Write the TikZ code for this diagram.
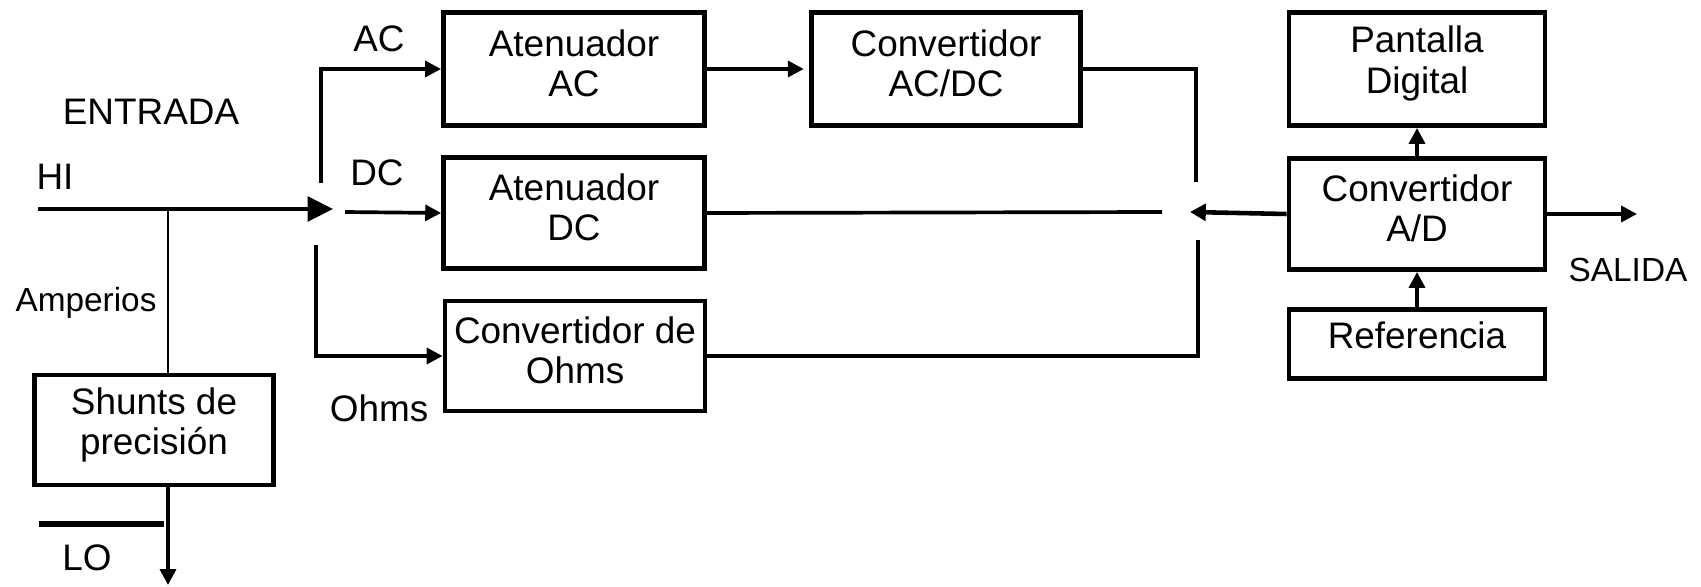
\documentclass[tikz,border=0pt]{standalone}
\usepackage{fontspec}
\setmainfont{Liberation Sans}
\usetikzlibrary{arrows.meta}
\begin{document}
\begin{tikzpicture}[x=0.02cm,y=-0.02cm,
  blk/.style={draw,line width=2.8pt,inner sep=0pt},
  btxt/.style={inner sep=0pt,align=center,font=\fontsize{21}{23}\selectfont},
  wire/.style={line width=2.1pt},
  arr/.style={wire,-{Triangle[length=9pt,width=9pt]}},
  lbl/.style={inner sep=0pt,font=\fontsize{21}{24}\selectfont},
  slbl/.style={inner sep=0pt,font=\fontsize{19}{22}\selectfont}]
\useasboundingbox (0,0) rectangle (1701,587);

% function blocks
\node[blk,minimum width=261*0.02cm,minimum height=113*0.02cm] (attAC) at (574,69) {};
\node[blk,minimum width=269*0.02cm,minimum height=113*0.02cm] (convACDC) at (946,69) {};
\node[blk,minimum width=261*0.02cm,minimum height=111*0.02cm] (attDC) at (574,213) {};
\node[blk,minimum width=260*0.02cm,minimum height=110*0.02cm] (convOhm) at (575,356) {};
\node[blk,minimum width=256*0.02cm,minimum height=113*0.02cm] (pant) at (1417,69) {};
\node[blk,minimum width=256*0.02cm,minimum height=111*0.02cm] (ad) at (1417,214) {};
\node[blk,minimum width=256*0.02cm,minimum height=69*0.02cm] (ref) at (1417,344) {};
\node[blk,minimum width=239*0.02cm,minimum height=110*0.02cm] (shunt) at (154,430) {};

% block captions, set slightly above centre
\node[btxt] (attACt) at ([yshift=3.2pt]attAC.center) {Atenuador\\AC};
\node[btxt] (convACDCt) at ([yshift=3.2pt]convACDC.center) {Convertidor\\AC/DC};
\node[btxt] (attDCt) at ([yshift=3.2pt]attDC.center) {Atenuador\\DC};
\node[btxt] (convOhmt) at ([yshift=3.2pt]convOhm.center) {Convertidor de\\Ohms};
\node[btxt] (pantt) at ([yshift=3.2pt]pant.center) {Pantalla\\Digital};
\node[btxt] (adt) at ([yshift=3.2pt]ad.center) {Convertidor\\A/D};
\node[btxt] (reft) at ([yshift=5pt]ref.center) {Referencia};
\node[btxt] (shuntt) at ([yshift=3pt]shunt.center) {Shunts de\\precisión};

% labels
\node[lbl] (entrada) at (151,112) {ENTRADA};
\node[lbl] (hi) at (55,177) {HI};
\node[slbl] (amp) at (86,303) {Amperios};
\node[lbl] (lo) at (87,558) {LO};
\node[lbl] (acl) at (379,39) {AC};
\node[lbl] (dcl) at (377,173) {DC};
\node[lbl] (ohl) at (379,408) {Ohms};
\node[slbl] (sal) at (1628,270) {SALIDA};

% input side
\coordinate (hiL) at (38,209);
\coordinate (jA) at (168,209);
\coordinate (swL) at (333,209);
\coordinate (loA) at (39,524);
\coordinate (loB) at (164,524);
\coordinate (loEnd) at (168,585);
\draw[line width=2.4pt,-{Triangle[length=14.5pt,width=14pt]}] (hiL) -- (swL);
\draw[line width=1.2pt] (jA) -- (jA |- shunt.north);
\draw[arr] (jA |- shunt.south) -- (loEnd);
\draw[line width=3.4pt] (loA) -- (loB);

% input selector contacts
\coordinate (acS) at (321,183);
\coordinate (dcS) at (345,212);
\coordinate (ohS) at (316,245);
\draw[arr] (acS) |- (attAC.west);
\draw[arr] (dcS) -- (attDC.west);
\draw[arr] (ohS) |- (convOhm.west);

% middle paths
\draw[arr] (attAC.east) -- ([xshift=-3pt]convACDC.west);
\coordinate (rAC) at (1196,182);
\coordinate (rDC) at (1162,212);
\coordinate (rOh) at (1198,240);
\coordinate (rTip) at (1190,212);
\draw[wire] (convACDC.east) -| (rAC);
\draw[wire] (attDC.east) -- (rDC);
\draw[wire] (convOhm.east) -| (rOh);
\draw[line width=2.6pt,-{Triangle[length=9pt,width=9.5pt]}] (ad.west) -- (rTip);

% output side
\coordinate (outE) at (1637,214);
\draw[arr] (ad.north) -- (pant.south);
\draw[arr] (ref.north) -- (ad.south);
\draw[arr] (ad.east) -- (outE);
\end{tikzpicture}
\end{document}
